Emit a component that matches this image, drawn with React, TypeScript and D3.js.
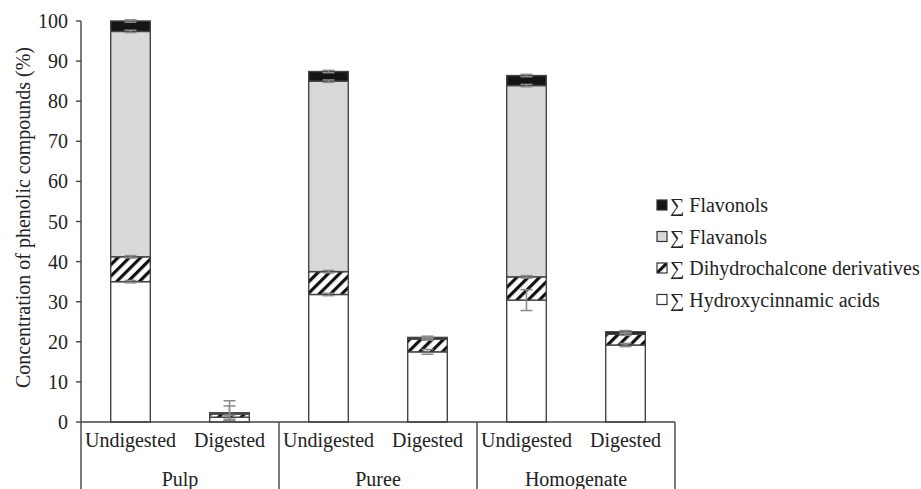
import React from 'react';
import * as d3 from 'd3';

// categories
const groups = ['Pulp', 'Puree', 'Homogenate'];
const states = ['Undigested', 'Digested'];

// stacked series, bottom to top (% of total phenolics)
const hydroxycinnamic = [35.0, 1.2, 31.8, 17.5, 30.4, 19.2];
const dihydrochalcone = [6.2, 0.8, 5.7, 3.2, 5.8, 2.7];
const flavanols = [56.2, 0.0, 47.5, 0.0, 47.7, 0.0];
const flavonols = [2.6, 0.3, 2.4, 0.4, 2.5, 0.6];

// error bar half-widths
const hydroxycinnamicErr = [0.3, 0.5, 0.3, 0.6, 2.6, 0.4];
const dihydrochalconeErr = [0.3, 2.0, 0.3, 0.3, 0.3, 0.3];
const flavanolsErr = [0.3, 0, 0.3, 0, 0.3, 0];
const flavonolsErr = [0.3, 3.0, 0.3, 0.3, 0.3, 0.3];

const yTicks = [0, 10, 20, 30, 40, 50, 60, 70, 80, 90, 100];

const seriesKeys = ['ha', 'dhc', 'fa', 'fo'];
const seriesValues: Record<string, number[]> = {
    ha: hydroxycinnamic,
    dhc: dihydrochalcone,
    fa: flavanols,
    fo: flavonols,
};
const seriesErr: Record<string, number[]> = {
    ha: hydroxycinnamicErr,
    dhc: dihydrochalconeErr,
    fa: flavanolsErr,
    fo: flavonolsErr,
};
const legendItems = [
    { key: 'fo', label: '\u2211 Flavonols' },
    { key: 'fa', label: '\u2211 Flavanols' },
    { key: 'dhc', label: '\u2211 Dihydrochalcone derivatives' },
    { key: 'ha', label: '\u2211 Hydroxycinnamic acids' },
];

const W = 921;
const H = 489;
const margin = { left: 81, right: 246, top: 21, bottom: 67 };
const FONT = "'Liberation Serif', 'Times New Roman', serif";
const FS = 20;

const fillFor = (key: string) => {
    if (key === 'fo') return '#151515';
    if (key === 'fa') return '#d8d9d8';
    if (key === 'dhc') return 'url(#hatch)';
    return '#ffffff';
};

const App: React.FC = () => {
    const bars = groups.flatMap(g => states.map(s => `${g}|${s}`));
    const rows = bars.map((b, i) => {
        const r: Record<string, number | string> = { bar: b };
        seriesKeys.forEach(k => { r[k] = seriesValues[k][i]; });
        return r;
    });
    const stacked = d3.stack<Record<string, number | string>>().keys(seriesKeys)(rows as any);

    const x = d3.scaleBand<string>()
        .domain(bars)
        .range([margin.left, W - margin.right])
        .paddingInner(0.6)
        .paddingOuter(0.3);
    const groupWidth = x.step() * 2;
    const x0 = margin.left;

    const y = d3.scaleLinear()
        .domain([0, 100])
        .range([H - margin.bottom, margin.top]);

    const yBase = y(0);
    const stroke = '#454545';

    return (
        <svg width={W} height={H} style={{ position: 'absolute', left: 0, top: 0, background: '#fff', fontFamily: FONT }}>
            <defs>
                <pattern id="hatch" width="8" height="8" patternUnits="userSpaceOnUse"
                    patternTransform="rotate(45)">
                    <rect width="8" height="8" fill="#fff" />
                    <rect x="0" y="0" width="3.2" height="8" fill="#111" />
                </pattern>
            </defs>

            {/* bars */}
            {stacked.map(layer => (
                <g key={layer.key}>
                    {layer.map((d, i) => {
                        const h = y(d[0]) - y(d[1]);
                        if (h <= 0) return null;
                        return (
                            <rect key={i}
                                x={x(bars[i])}
                                y={y(d[1])}
                                width={x.bandwidth()}
                                height={h}
                                fill={fillFor(layer.key)}
                                stroke={stroke}
                                strokeWidth={1.4} />
                        );
                    })}
                </g>
            ))}

            {/* error bars */}
            {stacked.map(layer => (
                <g key={`e-${layer.key}`} stroke="#8a8a8a" strokeWidth={1.5}>
                    {layer.map((d, i) => {
                        const e = seriesErr[layer.key][i];
                        if (!e) return null;
                        const cx = (x(bars[i]) as number) + x.bandwidth() / 2;
                        const top = d[1];
                        const lo = Math.max(0.3, top - e);
                        return (
                            <g key={i}>
                                <line x1={cx} x2={cx} y1={y(lo)} y2={y(top + e)} />
                                <line x1={cx - 6} x2={cx + 6} y1={y(lo)} y2={y(lo)} />
                                <line x1={cx - 6} x2={cx + 6} y1={y(top + e)} y2={y(top + e)} />
                            </g>
                        );
                    })}
                </g>
            ))}

            {/* y axis */}
            <line x1={x0} x2={x0} y1={y(100)} y2={yBase} stroke={stroke} strokeWidth={1.4} />
            {yTicks.map(t => (
                <g key={t}>
                    <line x1={x0 - 5} x2={x0} y1={y(t)} y2={y(t)} stroke={stroke} strokeWidth={1.4} />
                    <text x={x0 - 13} y={y(t)} dy="0.35em" textAnchor="end" fontSize={FS} fill="#222">{t}</text>
                </g>
            ))}
            <text transform={`translate(23,${(y(0) + y(100)) / 2 - 4}) rotate(-90)`} textAnchor="middle"
                dy="0.35em" fontSize={FS} fill="#222">
                Concentration of phenolic compounds (%)
            </text>

            {/* x axis with grouped categories */}
            <line x1={x0} x2={W - margin.right} y1={yBase} y2={yBase} stroke={stroke} strokeWidth={1.4} />
            {d3.range(groups.length + 1).map(i => (
                <line key={i} x1={x0 + i * groupWidth} x2={x0 + i * groupWidth} y1={yBase} y2={H}
                    stroke={stroke} strokeWidth={1.4} />
            ))}
            {bars.map(b => (
                <text key={b} x={(x(b) as number) + x.bandwidth() / 2} y={yBase + 25} textAnchor="middle"
                    fontSize={FS} fill="#222">{b.split('|')[1]}</text>
            ))}
            {groups.map((g, i) => (
                <text key={g} x={x0 + (i + 0.5) * groupWidth} y={yBase + 64} textAnchor="middle"
                    fontSize={FS} fill="#222">{g}</text>
            ))}

            {/* legend */}
            {legendItems.map((item, i) => {
                const ly = 205 + i * 31.5;
                return (
                    <g key={item.key}>
                        <rect x={657} y={ly - 5} width={10} height={10} fill={fillFor(item.key)}
                            stroke="#333" strokeWidth={1.2} />
                        <text x={670} y={ly} dy="0.35em" fontSize={FS} fill="#222">{item.label}</text>
                    </g>
                );
            })}
        </svg>
    );
};

export default App;
